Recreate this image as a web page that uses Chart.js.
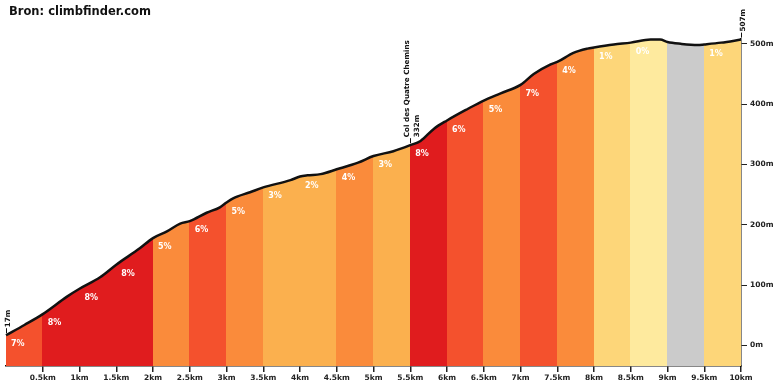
<!DOCTYPE html>
<html>
<head>
<meta charset="utf-8">
<script src="https://cdn.jsdelivr.net/npm/chart.js@4.4.1/dist/chart.umd.min.js"></script>
<style>
  html, body { margin: 0; padding: 0; background: #ffffff; }
  #wrap { position: relative; width: 780px; height: 390px; }
</style>
</head>
<body>
<div id="wrap"><canvas id="c" width="780" height="390"></canvas></div>
<script>
// ---- data ----
const titleText = 'Bron: climbfinder.com';
const distanceKm = [0, 0.25, 0.5, 0.83, 1.0, 1.28, 1.5, 1.82, 2.0, 2.19, 2.37, 2.5, 2.73, 2.91, 3.0, 3.09, 3.32, 3.5, 3.87, 4.0, 4.1, 4.28, 4.5, 4.79, 5.0, 5.27, 5.5, 5.64, 5.82, 6.0, 6.28, 6.5, 6.73, 7.0, 7.18, 7.41, 7.5, 7.72, 7.91, 8.0, 8.27, 8.5, 8.77, 8.9, 9.0, 9.18, 9.41, 9.5, 9.73, 10.0];
const elevationM = [17, 34, 52, 81, 94, 113, 134, 161, 178, 189, 202, 206, 220, 229, 237, 244, 254, 262, 274, 280, 282, 284, 292, 303, 314, 322, 332, 339, 359, 373, 392, 406, 418, 432, 450, 466, 470, 485, 492, 494, 499, 502, 507, 507, 503, 500, 498, 499, 502, 507];
const segmentKm = 0.5;
const segmentGrades = [7, 8, 8, 8, 5, 6, 5, 3, 2, 4, 3, 8, 6, 5, 7, 4, 1, 0, -1, 1];
const xTicks = [0.5, 1, 1.5, 2, 2.5, 3, 3.5, 4, 4.5, 5, 5.5, 6, 6.5, 7, 7.5, 8, 8.5, 9, 9.5, 10];
const yTicks = [0, 100, 200, 300, 400, 500];
const markerKm = [0, 5.5, 10];
const markerText = [['17m'], ['Col des Quatre Chemins', '332m'], ['507m']];

// ---- styling ----
function gradeColor(g) {
  if (g < 0) return '#cbcbcb';
  if (g >= 8) return '#e01c1e';
  if (g >= 6) return '#f4512d';
  if (g >= 4) return '#fa8b3b';
  if (g >= 2) return '#fbb04e';
  if (g >= 1) return '#fdd679';
  return '#feea9e';
}
const FONT = '"DejaVu Sans", Verdana, sans-serif';

function elevAt(km) {
  for (let i = 0; i < distanceKm.length - 1; i++) {
    if (km >= distanceKm[i] - 1e-9 && km <= distanceKm[i + 1] + 1e-9) {
      const t = (km - distanceKm[i]) / (distanceKm[i + 1] - distanceKm[i]);
      return elevationM[i] + t * (elevationM[i + 1] - elevationM[i]);
    }
  }
  return elevationM[elevationM.length - 1];
}

// area under the profile, coloured per 0.5 km segment (clipped by the line's own path)
const gradeFill = {
  id: 'gradeFill',
  beforeDatasetsDraw(chart) {
    const ctx = chart.ctx;
    const xs = chart.scales.x;
    const area = chart.chartArea;
    const line = chart.getDatasetMeta(0).dataset;
    if (!line) return;
    const pts = line.points;
    ctx.save();
    ctx.beginPath();
    line.path(ctx);
    ctx.lineTo(pts[pts.length - 1].x, area.bottom);
    ctx.lineTo(pts[0].x, area.bottom);
    ctx.closePath();
    ctx.clip();
    segmentGrades.forEach((g, i) => {
      const x0 = Math.floor(xs.getPixelForValue(i * segmentKm));
      const x1 = Math.ceil(xs.getPixelForValue((i + 1) * segmentKm));
      ctx.fillStyle = gradeColor(g);
      ctx.fillRect(x0, area.top - 10, x1 - x0, area.bottom - area.top + 10);
    });
    ctx.restore();
  }
};

const overlay = {
  id: 'overlay',
  afterDatasetsDraw(chart) {
    const ctx = chart.ctx;
    const xs = chart.scales.x, ys = chart.scales.y;
    ctx.save();
    // grade labels
    ctx.font = 'bold 8px ' + FONT;
    ctx.fillStyle = '#ffffff';
    ctx.textBaseline = 'middle';
    ctx.textAlign = 'left';
    segmentGrades.forEach((g, i) => {
      if (g < 0) return;
      const k0 = i * segmentKm;
      const px = xs.getPixelForValue(k0) + 5;
      const py = ys.getPixelForValue(elevAt(k0)) + 9;
      ctx.fillText(g + '%', px, py);
    });
    // markers
    ctx.fillStyle = '#111111';
    ctx.strokeStyle = '#111111';
    ctx.lineWidth = 1;
    ctx.font = 'bold 7.2px ' + FONT;
    markerKm.forEach((k, i) => {
      const px = Math.round(xs.getPixelForValue(k)) + 0.5;
      const py = ys.getPixelForValue(elevAt(k));
      ctx.beginPath();
      ctx.moveTo(px, py - 2);
      ctx.lineTo(px, py - 7);
      ctx.stroke();
      const lines = markerText[i];
      const lh = 9.5;
      const cx = px + 1.5 - (lines.length - 1) * lh / 2;
      lines.forEach((t, j) => {
        ctx.save();
        ctx.translate(cx + j * lh, py - 8);
        ctx.rotate(-Math.PI / 2);
        ctx.textAlign = 'left';
        ctx.textBaseline = 'middle';
        ctx.fillText(t, 0, 0);
        ctx.restore();
      });
    });
    // title
    ctx.font = 'bold 11.5px ' + FONT;
    ctx.textAlign = 'left';
    ctx.textBaseline = 'middle';
    ctx.fillText(titleText, 9, 12);
    ctx.restore();
  }
};

const points = distanceKm.map((k, i) => ({ x: k, y: elevationM[i] }));

new Chart(document.getElementById('c'), {
  type: 'line',
  data: {
    datasets: [{
      data: points,
      borderColor: '#111111',
      borderWidth: 2.5,
      pointRadius: 0,
      cubicInterpolationMode: 'monotone',
      fill: false,
      clip: false
    }]
  },
  options: {
    responsive: false,
    animation: false,
    events: [],
    layout: { padding: { left: 6, top: 39, right: 0, bottom: 0 } },
    plugins: { legend: { display: false }, tooltip: { enabled: false }, title: { display: false } },
    scales: {
      x: {
        type: 'linear',
        min: 0, max: 10,
        afterBuildTicks: s => { s.ticks = xTicks.map(v => ({ value: v })); },
        afterFit: s => { s.height = 24; },
        grid: { drawOnChartArea: false, drawTicks: true, tickLength: 6, color: '#222222', lineWidth: 1.5 },
        border: { display: true, color: '#111111', width: 1.5 },
        ticks: {
          autoSkip: false, maxRotation: 0, padding: 2, color: '#222222',
          font: { family: FONT, size: 7.5, weight: 'bold' },
          callback: v => v + 'km'
        }
      },
      y: {
        type: 'linear',
        position: 'right',
        min: -34, max: 508,
        afterBuildTicks: s => { s.ticks = yTicks.map(v => ({ value: v })); },
        afterFit: s => { s.width = 39; },
        grid: { drawOnChartArea: false, drawTicks: true, tickLength: 6, color: '#222222', lineWidth: 1 },
        border: { display: true, color: '#111111', width: 1.5 },
        ticks: {
          padding: 3, color: '#222222',
          font: { family: FONT, size: 7.5, weight: 'bold' },
          callback: v => v + 'm'
        }
      }
    }
  },
  plugins: [gradeFill, overlay]
});
</script>
</body>
</html>
